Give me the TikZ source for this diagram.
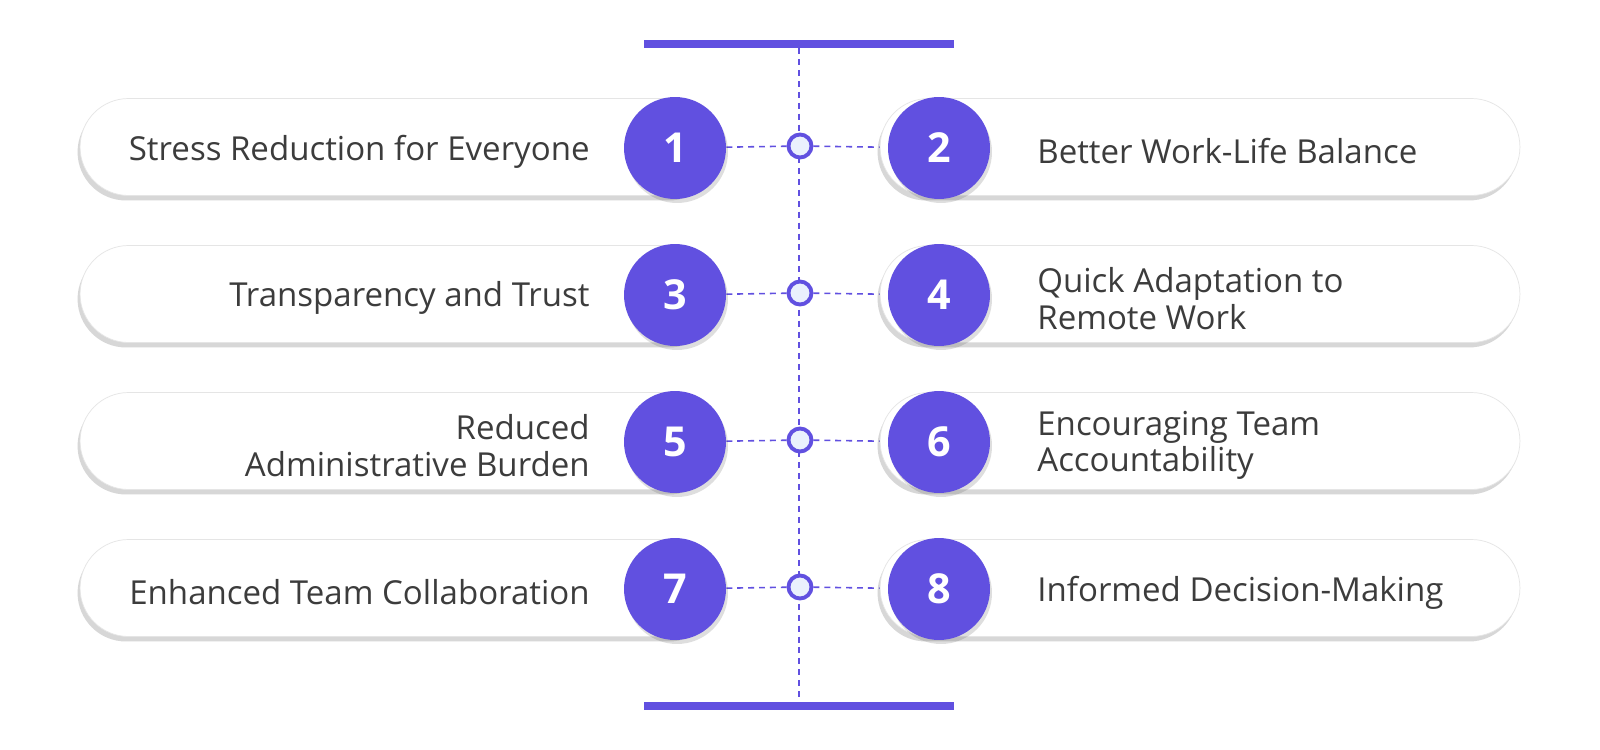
\documentclass[tikz,border=0pt]{standalone}
\usepackage{fontspec}
\setmainfont{Open Sans}
\usetikzlibrary{positioning,shadows,backgrounds}
\definecolor{accent}{HTML}{6150E0}
\definecolor{soft}{HTML}{EAF0FD}
\definecolor{ink}{HTML}{3C3C3C}

\begin{document}
\begin{tikzpicture}[
  x=0.02cm, y=-0.02cm,
  pill/.style={rectangle, rounded corners=0.97cm, draw=black!10, fill=white, minimum width=12.8cm, minimum height=1.94cm, inner sep=0pt, drop shadow={shadow xshift=-0.05cm, shadow yshift=-0.1cm, opacity=0.22, fill=black!70}},
  num/.style={circle, fill=accent, minimum size=2.04cm, inner sep=0pt, text=white, font=\fontsize{23.5}{25}\selectfont\bfseries, drop shadow={shadow xshift=0.04cm, shadow yshift=-0.08cm, opacity=0.18, fill=black!70}},
  dot/.style={circle, draw=accent, fill=soft, line width=2.2pt, minimum size=0.46cm, inner sep=0pt},
  bar/.style={rectangle, fill=accent, minimum width=6.2cm, minimum height=0.16cm, inner sep=0pt},
  ltext/.style={anchor=east, align=right, inner sep=0pt, yshift=-2.5pt, text=ink, font=\fontsize{18.8}{21}\selectfont},
  rtext/.style={anchor=west, align=left, inner sep=0pt, yshift=-2.5pt, text=ink, font=\fontsize{18.8}{21}\selectfont},
  link/.style={dash pattern=on 3.4pt off 2.8pt, draw=accent, line width=0.9pt}
]
\useasboundingbox (0,0) rectangle (1600,750);
\begin{pgfonlayer}{background}
\fill[white] (0,0) rectangle (1600,750);
\end{pgfonlayer}

% bars
\node[bar] (top) at (799,44) {};
\node[bar] (bottom) at (799,706) {};

% pills
\node[pill] (p1) at (400,147) {};
\node[pill] (p2) at (1200,147) {};
\node[pill] (p3) at (400,294) {};
\node[pill] (p4) at (1200,294) {};
\node[pill] (p5) at (400,441) {};
\node[pill] (p6) at (1200,441) {};
\node[pill] (p7) at (400,588) {};
\node[pill] (p8) at (1200,588) {};

% texts
\node[ltext] (t1) at (590,147) {Stress Reduction for Everyone};
\node[rtext] (t2) at (1037,147) {Better Work-Life Balance};
\node[ltext] (t3) at (590,294) {Transparency and Trust};
\node[rtext] (t4) at (1037,294) {Quick Adaptation to\\Remote Work};
\node[ltext] (t5) at (590,441) {Reduced\\Administrative Burden};
\node[rtext] (t6) at (1037,441) {Encouraging Team\\Accountability};
\node[ltext] (t7) at (590,588) {Enhanced Team Collaboration};
\node[rtext] (t8) at (1037,588) {Informed Decision-Making};

% numbers
\node[num] (n1) at (675,148) {1};
\node[num] (n2) at (939,148) {2};
\node[num] (n3) at (675,295) {3};
\node[num] (n4) at (939,295) {4};
\node[num] (n5) at (675,442) {5};
\node[num] (n6) at (939,442) {6};
\node[num] (n7) at (675,589) {7};
\node[num] (n8) at (939,589) {8};

% dots
\node[dot] (d1) at (800,146) {};
\node[dot] (d2) at (800,293) {};
\node[dot] (d3) at (800,440) {};
\node[dot] (d4) at (800,587) {};

\begin{pgfonlayer}{background}
\draw[link] (top) -- (bottom);
\draw[link] (n1) -- (d1) -- (n2);
\draw[link] (n3) -- (d2) -- (n4);
\draw[link] (n5) -- (d3) -- (n6);
\draw[link] (n7) -- (d4) -- (n8);
\end{pgfonlayer}
\end{tikzpicture}
\end{document}
